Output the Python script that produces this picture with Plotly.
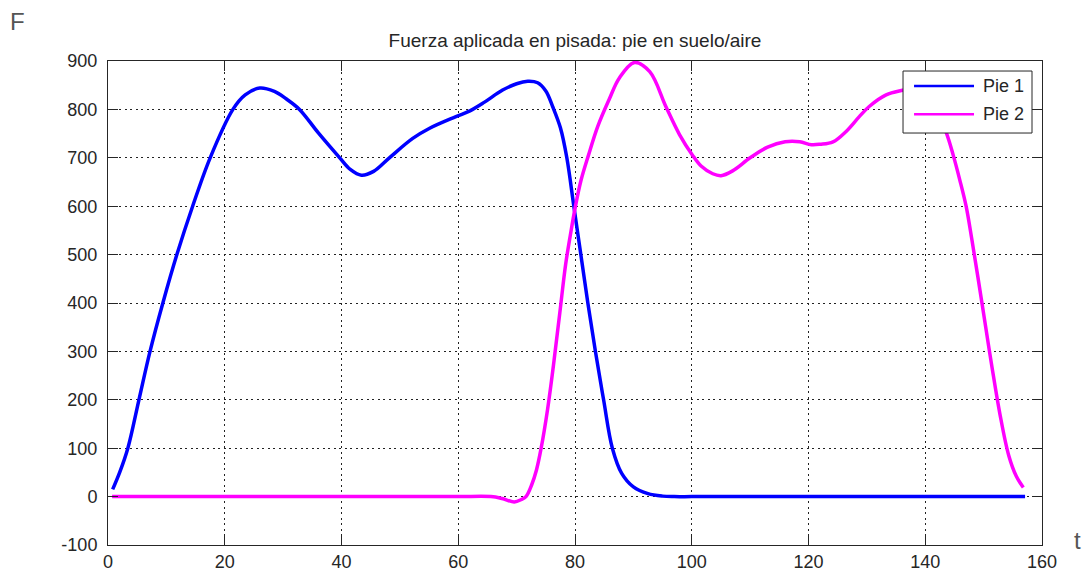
import plotly.graph_objects as go

# Pie 1 (blue)
pie1_t = [0.8, 2.0, 3.4, 5.3, 7.2, 9.4, 11.8, 14.5, 17.5, 21.4, 23.5, 26.0, 28.5, 30.5,
          32.8, 36.0, 39.7, 41.5, 43.4, 45.5, 48.2, 52.2, 55.1, 59.6, 62.0, 64.5,
          67.6, 70.0, 71.9, 73.6, 75.0, 76.2, 77.5, 78.6, 79.8, 81.0, 82.2, 83.5, 84.9,
          86.4, 88.0, 90.0, 92.5, 95.0, 97.0, 100, 110, 120, 130, 140, 150, 157.1]
pie1_f = [15, 50, 100, 200, 300, 400, 500, 600, 700, 800, 830, 844, 837, 822,
          800, 752, 700, 676, 664, 672, 700, 740, 761, 785, 797, 815,
          840, 853, 858, 855, 838, 805, 762, 700, 600, 500, 400, 300, 200,
          100, 48, 20, 6, 1, 0, 0, 0, 0, 0, 0, 0, 0]

# Pie 2 (magenta)
pie2_t = [0.7, 10, 20, 30, 40, 50, 60, 65.6, 67.5, 69.6, 70.8, 71.6, 72.6, 73.4, 74.2,
          75.3, 76.4, 77.4, 78.4, 79.2, 80.0, 81.0, 82.3, 83.9, 85.9, 87.6, 90.2, 92.8,
          95.6, 97.9, 100.1, 101.6, 103.6, 105.0, 107.0, 110.0, 113.0, 116.0, 118.5,
          120.5, 122.0, 124.2, 126.4, 128.7, 130.4, 133.3, 135.9, 138.0, 140.0, 141.8,
          143.6, 144.8, 145.9, 147.0, 148.0, 149.0, 150.1, 151.4, 152.8, 154.3, 155.6,
          156.8]
pie2_f = [0, 0, 0, 0, 0, 0, 0, 0, -4, -11, -6, 0, 25, 55, 100,
          180, 280, 380, 480, 540, 595, 652, 705, 765, 822, 865, 897, 878,
          805, 748, 706, 683, 667, 663, 673, 700, 722, 733, 733,
          727, 728, 733, 754, 785, 806, 830, 839, 843, 830, 800,
          752, 705, 655, 600, 530, 455, 370, 270, 170, 85, 42,
          19]

x_ticks = [0, 20, 40, 60, 80, 100, 120, 140, 160]
y_ticks = [-100, 0, 100, 200, 300, 400, 500, 600, 700, 800, 900]

BLUE = "#0000FF"
MAGENTA = "#FF00FF"
FONT = "Liberation Sans, Arial, sans-serif"

fig = go.Figure()
fig.add_trace(go.Scatter(x=pie1_t, y=pie1_f, mode="lines", name="Pie 1",
                         line=dict(color=BLUE, width=3.5, shape="spline", smoothing=1.0),
                         showlegend=False))
fig.add_trace(go.Scatter(x=pie2_t, y=pie2_f, mode="lines", name="Pie 2",
                         line=dict(color=MAGENTA, width=3.5, shape="spline", smoothing=1.0),
                         showlegend=False))

axis_common = dict(
    showline=True, linecolor="#262626", linewidth=1, mirror="ticks",
    ticks="inside", ticklen=10, tickcolor="#262626", tickwidth=1,
    showgrid=True, gridcolor="#222222", gridwidth=1, griddash="2px,3.5px",
    zeroline=False, automargin=False,
    tickfont=dict(family=FONT, size=18, color="#262626"),
)

fig.update_xaxes(range=[0, 160], tickvals=x_ticks, ticktext=[str(v) for v in x_ticks],
                 ticklabelstandoff=0, **axis_common)
fig.update_yaxes(range=[-100, 900], tickvals=y_ticks, ticktext=[str(v) for v in y_ticks],
                 ticklabelstandoff=6, **axis_common)

# manual legend (MATLAB-like)
lx0, lx1, ly0, ly1 = 0.8512, 0.9893, 0.8512, 0.9793
shapes = [
    dict(type="rect", xref="paper", yref="paper", x0=lx0, x1=lx1, y0=ly0, y1=ly1,
         line=dict(color="#262626", width=1), fillcolor="white", layer="above"),
    dict(type="line", xref="paper", yref="paper", x0=0.8630, x1=0.9272, y0=0.9483, y1=0.9483,
         line=dict(color=BLUE, width=2.5), layer="above"),
    dict(type="line", xref="paper", yref="paper", x0=0.8630, x1=0.9272, y0=0.8899, y1=0.8899,
         line=dict(color=MAGENTA, width=2.5), layer="above"),
]
annotations = [
    dict(text="Pie 1", xref="paper", yref="paper", x=0.9347, y=0.9483, xanchor="left",
         yanchor="middle", showarrow=False, font=dict(family=FONT, size=18, color="#262626")),
    dict(text="Pie 2", xref="paper", yref="paper", x=0.9347, y=0.8899, xanchor="left",
         yanchor="middle", showarrow=False, font=dict(family=FONT, size=18, color="#262626")),
    dict(text="F", xref="paper", yref="paper", x=-0.0974, y=1.0806, xanchor="center",
         yanchor="middle", showarrow=False, font=dict(family=FONT, size=24, color="#555555")),
    dict(text="t", xref="paper", yref="paper", x=1.0375, y=0.0103, xanchor="center",
         yanchor="middle", showarrow=False, font=dict(family=FONT, size=24, color="#555555")),
]

# page body has an 8px margin, so the figure is sized 8px smaller
fig.update_layout(
    width=1082, height=565,
    margin=dict(l=100, r=48, t=53, b=28),
    paper_bgcolor="white", plot_bgcolor="white",
    title=dict(text="Fuerza aplicada en pisada: pie en suelo/aire", x=0.5, xref="paper",
               y=1 - 32 / 565, yref="container", xanchor="center", yanchor="middle",
               font=dict(family=FONT, size=19, color="#262626")),
    shapes=shapes, annotations=annotations, showlegend=False,
)

fig.write_html("out.html")
